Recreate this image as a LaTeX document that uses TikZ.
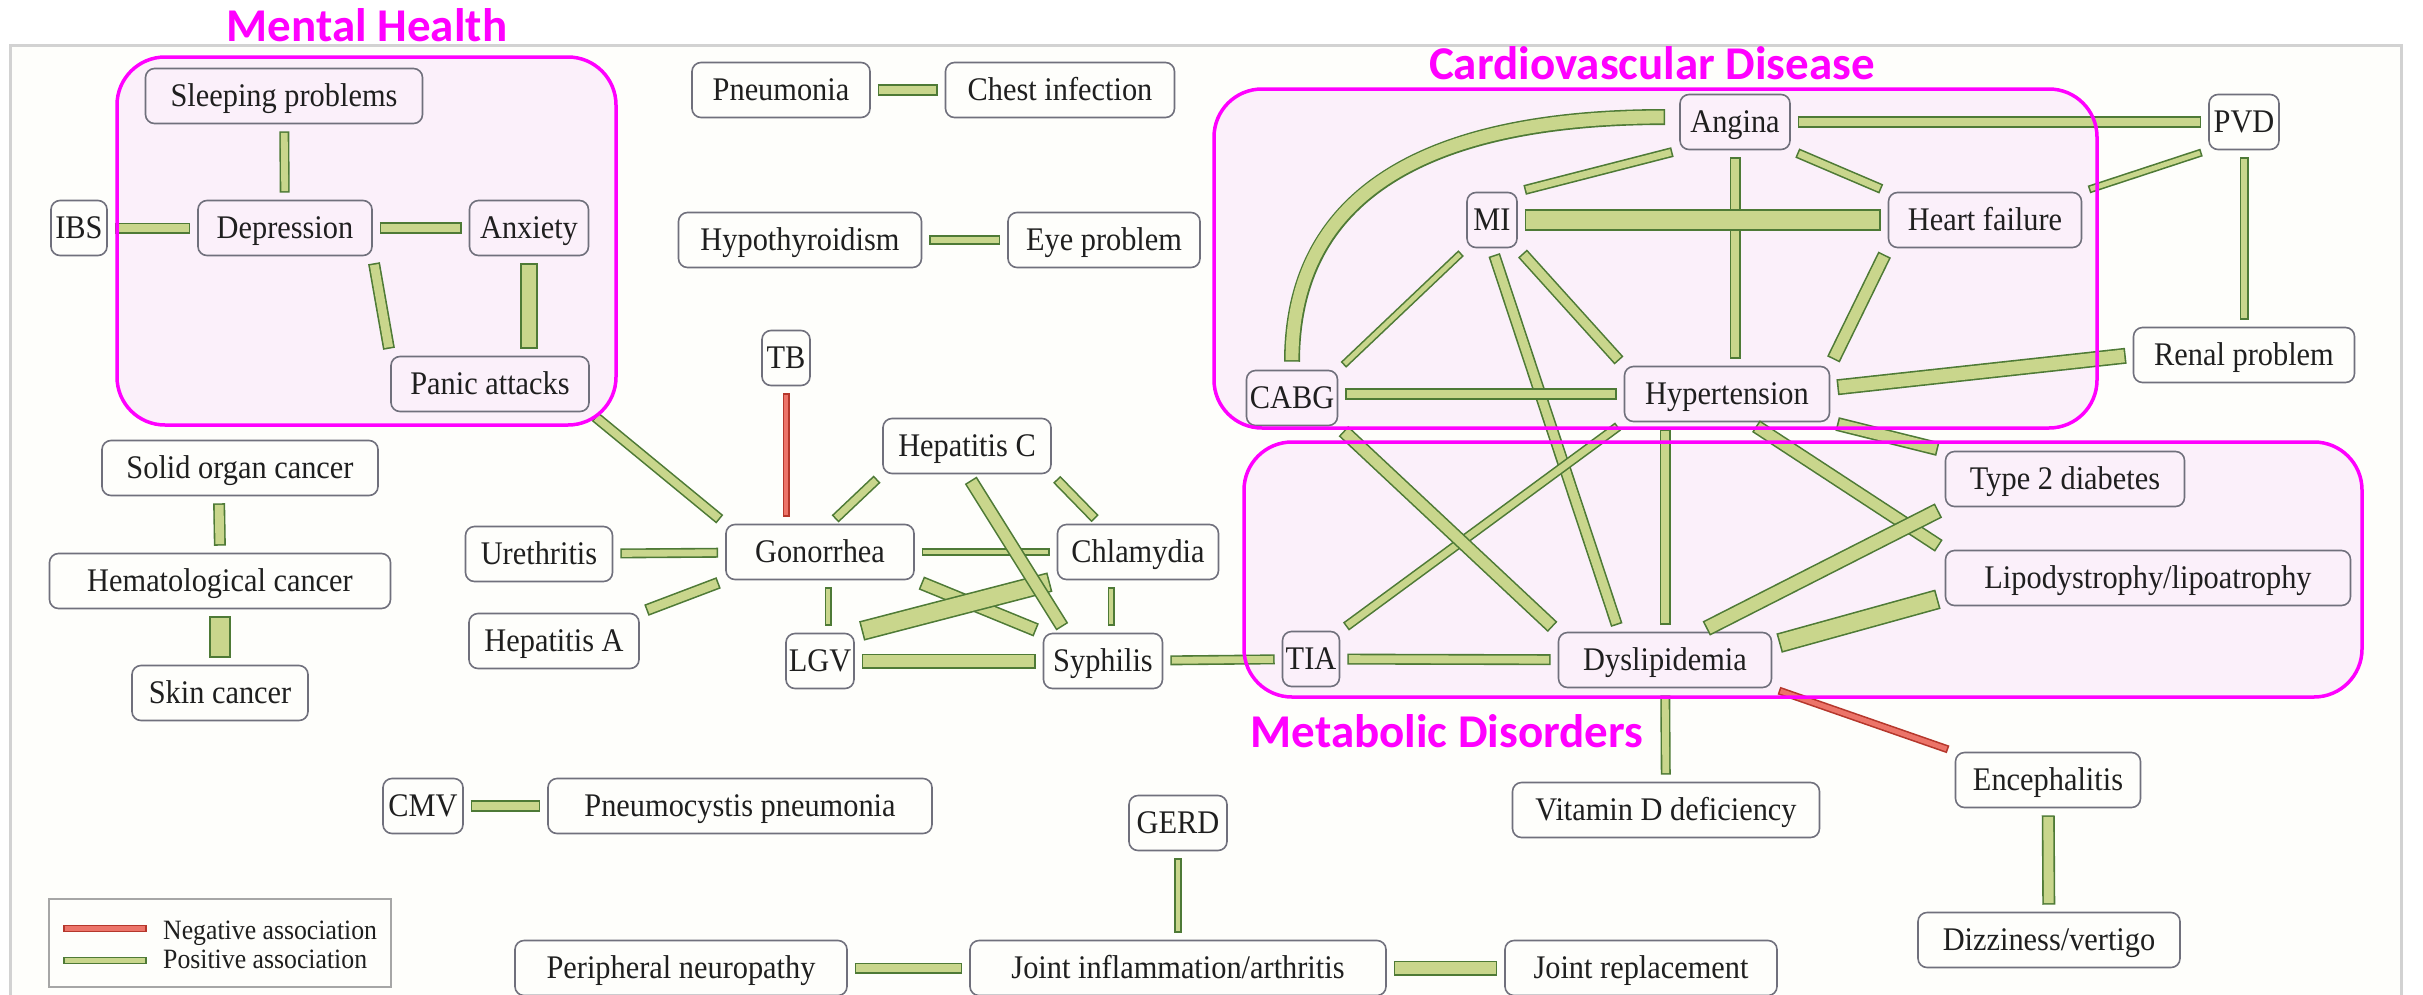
\documentclass[tikz,border=0pt]{standalone}
\usepackage{fontspec}
\setmainfont{Liberation Serif}[FakeStretch=0.92]
\newfontfamily\headfont{Carlito}
\usetikzlibrary{calc}

\definecolor{posfill}{HTML}{C9D68C}
\definecolor{posline}{HTML}{4E7A36}
\definecolor{negfill}{HTML}{EC7469}
\definecolor{negline}{HTML}{B5372C}
\definecolor{boxgray}{HTML}{70707C}
\definecolor{panelbg}{HTML}{FEFEFB}
\definecolor{grpmag}{HTML}{FF00FF}
\definecolor{grpfill}{HTML}{FBF0FA}

\tikzset{
  cond/.style={draw=boxgray, line width=1.6pt, rounded corners=9pt,
    minimum height=55pt, inner sep=0pt, text height=21pt, text depth=1pt,
    font=\rmfamily\fontsize{33}{36}\selectfont, text=black!88},
  groupbg/.style={fill=grpfill, rounded corners=48pt},
  groupline/.style={draw=grpmag, line width=3.5pt, rounded corners=48pt},
  grouptitle/.style={text=grpmag, inner sep=0pt,
    font=\headfont\bfseries\fontsize{47}{50}\selectfont},
  legendtext/.style={anchor=base west, inner sep=0pt,
    font=\rmfamily\fontsize{28}{30}\selectfont, text=black!88},
}

% association bar: [pos|neg]{from}{to}{width}
\newcommand\assoc[4][pos]{%
  \draw[line width=#4pt, draw=#1line, shorten <=7pt, shorten >=7pt] (#2) -- (#3);
  \draw[line width=#4pt-3.2pt, draw=#1fill, shorten <=8.6pt, shorten >=8.6pt] (#2) -- (#3);}

\begin{document}
\begin{tikzpicture}[x=1pt, y=-1pt]
\useasboundingbox (0,0) rectangle (2423,994);
\fill[white] (0,0) rectangle (2423,994);

% panel
\fill[panelbg] (10,45) rectangle (2401,1010);
\draw[gray!35, line width=3pt] (10,1010) -- (10,45) -- (2401,45) -- (2401,1010);

% disease group backgrounds
\fill[groupbg] (117,57) rectangle (616,425);
\fill[groupbg] (1214,89) rectangle (2097,428);
\fill[groupbg] (1244,442) rectangle (2362,697);

% conditions
\node[cond, minimum width=277pt] (sleep) at (284,96) {Sleeping problems};
\node[cond, minimum width=56pt]  (ibs)   at (79,228) {IBS};
\node[cond, minimum width=174pt] (dep)   at (285,228) {Depression};
\node[cond, minimum width=119pt] (anx)   at (529,228) {Anxiety};
\node[cond, minimum width=198pt] (panic) at (490,384) {Panic attacks};

\node[cond, minimum width=178pt] (pneu)  at (781,90) {Pneumonia};
\node[cond, minimum width=229pt] (chest) at (1060,90) {Chest infection};
\node[cond, minimum width=243pt] (hypo)  at (800,240) {Hypothyroidism};
\node[cond, minimum width=192pt] (eye)   at (1104,240) {Eye problem};

\node[cond, minimum width=48pt]  (tb)    at (786,358) {TB};
\node[cond, minimum width=168pt] (hepc)  at (967,446) {Hepatitis C};
\node[cond, minimum width=188pt] (gon)   at (820,552) {Gonorrhea};
\node[cond, minimum width=161pt] (chla)  at (1138,552) {Chlamydia};
\node[cond, minimum width=68pt]  (lgv)   at (820,661) {LGV};
\node[cond, minimum width=119pt] (syph)  at (1103,661) {Syphilis};
\node[cond, minimum width=147pt] (ureth) at (539,554) {Urethritis};
\node[cond, minimum width=170pt] (hepa)  at (554,641) {Hepatitis A};

\node[cond, minimum width=276pt] (solid) at (240,468) {Solid organ cancer};
\node[cond, minimum width=341pt] (hema)  at (220,581) {Hematological cancer};
\node[cond, minimum width=176pt] (skin)  at (220,693) {Skin cancer};

\node[cond, minimum width=80pt]  (cmv)   at (423,806) {CMV};
\node[cond, minimum width=384pt] (pcp)   at (740,806) {Pneumocystis pneumonia};

\node[cond, minimum width=332pt] (pn)    at (681,968) {Peripheral neuropathy};
\node[cond, minimum width=416pt] (joint) at (1178,968) {Joint inflammation/arthritis};
\node[cond, minimum width=98pt]  (gerd)  at (1178,823) {GERD};
\node[cond, minimum width=272pt] (jr)    at (1641,968) {Joint replacement};

\node[cond, minimum width=110pt] (angina) at (1735,122) {Angina};
\node[cond, minimum width=70pt]  (pvd)    at (2244,122) {PVD};
\node[cond, minimum width=50pt]  (mi)     at (1492,220) {MI};
\node[cond, minimum width=193pt] (hf)     at (1985,220) {Heart failure};
\node[cond, minimum width=91pt]  (cabg)   at (1292,398) {CABG};
\node[cond, minimum width=205pt] (hyp)    at (1727,394) {Hypertension};
\node[cond, minimum width=221pt] (renal)  at (2244,355) {Renal problem};

\node[cond, minimum width=239pt] (t2d)   at (2065,479) {Type 2 diabetes};
\node[cond, minimum width=405pt] (lipo)  at (2148,578) {Lipodystrophy/lipoatrophy};
\node[cond, minimum width=213pt] (dys)   at (1665,660) {Dyslipidemia};
\node[cond, minimum width=57pt]  (tia)   at (1311,659) {TIA};
\node[cond, minimum width=307pt] (vitd)  at (1666,810) {Vitamin D deficiency};
\node[cond, minimum width=185pt] (enc)   at (2048,780) {Encephalitis};
\node[cond, minimum width=262pt] (dizzy) at (2049,940) {Dizziness/vertigo};

% mental health
\assoc{sleep}{dep}{10}
\assoc{ibs}{dep}{11}
\assoc{dep}{anx}{12}
\assoc{dep.south east}{panic.north west}{12}
\assoc{anx.south}{anx.south |- panic.north}{18}
\assoc{panic.south east}{gon.north west}{11}

% isolated pairs
\assoc{pneu}{chest}{12}
\assoc{hypo}{eye}{10}
\assoc{$(solid.south)+(-21,0)$}{hema.north}{12}
\assoc{hema}{skin}{22}
\assoc{cmv}{pcp}{12}
\assoc{pn}{joint}{11}
\assoc{joint}{jr}{15}
\assoc{gerd}{joint}{8}
\assoc{enc}{dizzy}{13}

% infections
\assoc[neg]{tb.south}{tb.south |- gon.north}{7}
\assoc{$(gon.north)+(10,0)$}{hepc.south west}{10}
\assoc{hepc.south east}{$(chla.north)+(-38,0)$}{10}
\assoc{gon}{chla}{8}
\assoc{$(gon.south)+(8,0)$}{$(lgv.north)+(8,0)$}{7}
\assoc{$(chla.south)+(-27,0)$}{$(syph.north)+(8,0)$}{7}
\assoc{gon.south east}{syph.north west}{14}
\assoc{chla.south west}{lgv.north east}{20}
\assoc{hepc.south}{$(syph.north)+(-37,0)$}{14}
\assoc{lgv}{syph}{15}
\assoc{ureth}{gon}{10}
\assoc{hepa.north east}{gon.south west}{12}

% cardiovascular
\draw[posline, line width=16pt] ($(angina.west)+(-14,-5)$) .. controls +(-246,0) and +(0,-163) .. ($(cabg.north)+(0,-8)$);
\draw[posfill, line width=12.8pt, shorten <=1.6pt, shorten >=1.6pt] ($(angina.west)+(-14,-5)$) .. controls +(-246,0) and +(0,-163) .. ($(cabg.north)+(0,-8)$);
\assoc{angina}{pvd}{12}
\assoc{angina.south west}{mi.north east}{10}
\assoc{angina.south east}{hf.north west}{10}
\assoc{angina.south}{angina.south |- hyp.north}{11}
\assoc{mi}{hf}{22}
\assoc{pvd.south west}{hf.north east}{8}
\assoc{pvd}{renal}{9}
\assoc{hf.south west}{hyp.north east}{14}
\assoc{mi.south west}{cabg.north east}{8}
\assoc{mi.south}{$(dys.north)+(-46,0)$}{12}
\assoc{mi.south east}{hyp.north west}{12}
\assoc{$(cabg.east)+(0,-4)$}{hyp.west}{12}
\assoc{$(hyp.east)+(0,-6)$}{renal.west}{16}

% metabolic
\assoc{hyp.south east}{t2d.north west}{14}
\assoc{$(hyp.south)+(23,0)$}{lipo.north west}{14}
\assoc{$(hyp.south)+(-62,0)$}{dys.north}{11}
\assoc{hyp.south west}{tia.north east}{10}
\assoc{cabg.south east}{dys.north west}{14}
\assoc{tia}{dys}{11}
\assoc{syph}{tia}{10}
\assoc{$(dys.north)+(35,0)$}{t2d.south west}{16}
\assoc{$(dys.east)+(0,-15)$}{$(lipo.south west)+(0,-9)$}{20}
\assoc[neg]{dys.south east}{enc.north west}{8}
\assoc{dys}{vitd}{10}

% disease group outlines and titles
\draw[groupline] (117,57) rectangle (616,425);
\draw[groupline] (1214,89) rectangle (2097,428);
\draw[groupline] (1244,442) rectangle (2362,697);
\node[grouptitle] (mhtitle) at (367,25) {Mental Health};
\node[grouptitle] (cvtitle) at (1652,63) {Cardiovascular Disease};
\node[grouptitle] (mdtitle) at (1447,731) {Metabolic Disorders};

% legend
\node[draw=gray!70, line width=2.5pt, minimum width=342pt, minimum height=88pt, inner sep=0pt] (legend) at (220,943) {};
\coordinate (nega) at (56,928.5);
\coordinate (negb) at (154,928.5);
\coordinate (posa) at (56,960.5);
\coordinate (posb) at (154,960.5);
\assoc[neg]{nega}{negb}{7.5}
\assoc{posa}{posb}{7.5}
\node[legendtext] (negtext) at (163,939) {Negative association};
\node[legendtext] (postext) at (163,968) {Positive association};
\end{tikzpicture}
\end{document}
